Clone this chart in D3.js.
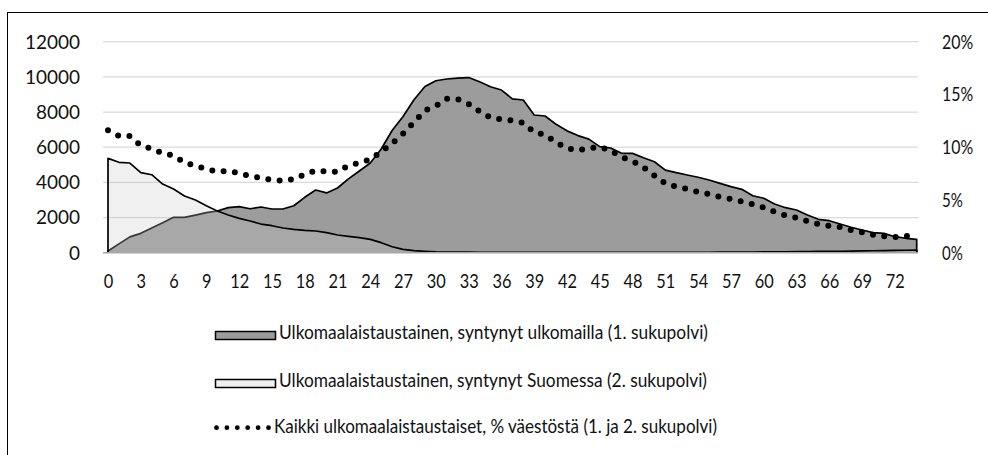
<!DOCTYPE html>
<html><head><meta charset="utf-8">
<script src="https://cdn.jsdelivr.net/npm/d3@7"></script>
<style>
body{margin:0;background:#fff}
svg{display:block}
text{font-family:Lato,Roboto,"Open Sans",sans-serif;fill:#111}
</style>
</head><body>
<svg id="chart" width="988" height="455"></svg>
<script>
// ---- data ----
const ages = d3.range(0, 75);
const firstGen = [100,500,900,1100,1400,1700,2010,2010,2140,2275,2370,2560,2620,2500,2600,2485,2485,2670,3150,3565,3400,3680,4200,4650,5100,5900,6950,7750,8700,9450,9780,9880,9930,9960,9725,9440,9250,8750,8685,7830,7775,7300,6930,6660,6460,6030,5955,5650,5650,5400,5175,4700,4550,4420,4290,4135,3940,3755,3605,3240,3095,2770,2560,2430,2145,1900,1820,1630,1445,1290,1140,1100,910,820,760];
const secondGen = [5365,5140,5100,4550,4435,3905,3620,3225,3000,2670,2370,2145,1955,1800,1630,1535,1405,1330,1275,1235,1140,1005,930,855,760,570,340,190,115,80,50,40,30,30,25,25,25,25,25,25,25,25,25,25,25,25,25,25,25,25,25,25,25,25,25,25,30,30,35,40,45,50,55,60,65,70,75,80,90,100,110,120,130,140,150];
const sharePct = [11.6,11.06,11.05,10.15,9.87,9.42,9.2,8.55,8.22,7.93,7.69,7.76,7.53,7.28,7.08,6.9,6.81,6.97,7.42,7.77,7.71,7.67,8.26,8.53,8.85,9.58,10.36,11.28,12.36,13.47,13.9,14.6,14.54,14.1,13.4,12.8,12.65,12.52,12.3,11.42,11.18,10.46,9.9,9.7,9.9,10.03,9.68,9.05,8.68,8.1,7.31,6.56,6.25,6.04,5.76,5.55,5.29,5.1,4.85,4.59,4.28,3.87,3.54,3.31,2.98,2.71,2.55,2.42,2.14,1.94,1.7,1.55,1.47,1.56,1.8];
const leftTicks = [0,2000,4000,6000,8000,10000,12000];
const rightTicks = [0,5,10,15,20];
const xTickAges = d3.range(0, 73, 3);
const legendLabels = [
  "Ulkomaalaistaustainen, syntynyt ulkomailla (1. sukupolvi)",
  "Ulkomaalaistaustainen, syntynyt Suomessa (2. sukupolvi)",
  "Kaikki ulkomaalaistaustaiset, % väestöstä (1. ja 2. sukupolvi)"
];

// ---- setup ----
const svg = d3.select("#chart");
const x = d3.scalePoint().domain(ages).range([108, 916.7]);
const yL = d3.scaleLinear().domain([0, 12000]).range([252.7, 41.7]);
const yR = d3.scaleLinear().domain([0, 20]).range([252.7, 41.7]);
const FONT = "Lato,Roboto,'Open Sans',sans-serif";

// outer border (extends past canvas on right/bottom)
svg.append("rect").attr("x", 7.5).attr("y", 12.5).attr("width", 1000).attr("height", 500)
  .attr("fill", "none").attr("stroke", "#000").attr("stroke-width", 1);

// gridlines
svg.append("g").selectAll("line").data(leftTicks.filter(d => d > 0)).join("line")
  .attr("x1", 103).attr("x2", 918)
  .attr("y1", d => yL(d)).attr("y2", d => yL(d))
  .attr("stroke", "#d9d9d9").attr("stroke-width", 1.3);

// areas
const area = d3.area().x((d, i) => x(ages[i])).y0(yL(0)).y1(d => yL(d));
const outline = vals => {
  const pts = vals.map((v, i) => [x(ages[i]), yL(v)]);
  return d3.line()([[x(ages[0]), yL(0)], ...pts, [x(ages[ages.length - 1]), yL(0)]]);
};
svg.append("path").attr("d", area(firstGen)).attr("fill", "#9c9c9c");
svg.append("path").attr("d", outline(firstGen)).attr("fill", "none")
  .attr("stroke", "#000").attr("stroke-width", 1.7).attr("stroke-linejoin", "round");
svg.append("path").attr("d", area(secondGen)).attr("fill", "#c8c8c8").attr("fill-opacity", 0.28);
svg.append("path").attr("d", outline(secondGen)).attr("fill", "none")
  .attr("stroke", "#000").attr("stroke-width", 1.7).attr("stroke-linejoin", "round");

// baseline
svg.append("line").attr("x1", 103).attr("x2", 918).attr("y1", yL(0)).attr("y2", yL(0))
  .attr("stroke", "#a6a6a6").attr("stroke-width", 1.5);

// dotted share line
svg.append("path")
  .attr("d", d3.line().x((d, i) => x(ages[i])).y(d => yR(d))(sharePct))
  .attr("fill", "none").attr("stroke", "#000").attr("stroke-width", 6)
  .attr("stroke-linecap", "round").attr("stroke-dasharray", "0 11.4");

// axes
const gL = svg.append("g").attr("transform", "translate(80,0)")
  .call(d3.axisLeft(yL).tickValues(leftTicks).tickSize(0).tickPadding(0).tickFormat(d3.format("d")));
const gR = svg.append("g").attr("transform", "translate(942,0)")
  .call(d3.axisRight(yR).tickValues(rightTicks).tickSize(0).tickPadding(0).tickFormat(d => d + "%"));
const gB = svg.append("g").attr("transform", "translate(0,274)")
  .call(d3.axisBottom(x).tickValues(xTickAges).tickSize(0).tickPadding(0));
[gL, gR, gB].forEach(g => {
  g.select(".domain").remove();
  g.selectAll("text").attr("font-family", FONT).attr("fill", "#111");
});
gL.selectAll("text").attr("font-size", 20).attr("textLength", d => String(d).length * 11).attr("lengthAdjust", "spacingAndGlyphs");
gR.selectAll("text").attr("font-size", 20).attr("textLength", d => String(d).length * 10.3 + 10.5).attr("lengthAdjust", "spacingAndGlyphs");
gB.selectAll("text").attr("font-size", 19).attr("textLength", d => String(d).length * 9.5).attr("lengthAdjust", "spacingAndGlyphs");

// legend
const lg = svg.append("g");
const rowsY = [339.3, 387.3, 432.7];
lg.append("rect").attr("x", 215.5).attr("y", 331.5).attr("width", 60).attr("height", 8)
  .attr("fill", "#9c9c9c").attr("stroke", "#000").attr("stroke-width", 1.5);
lg.append("rect").attr("x", 215.5).attr("y", 379.5).attr("width", 60).attr("height", 8)
  .attr("fill", "#f0f0f0").attr("stroke", "#000").attr("stroke-width", 1.5);
lg.selectAll("circle").data(d3.range(6)).join("circle")
  .attr("cx", d => 216.5 + d * 10.4).attr("cy", 427.7).attr("r", 2.4).attr("fill", "#000");
const textX = [279, 279, 274];
const textW = [429, 428, 443];
lg.selectAll("text").data(legendLabels).join("text")
  .attr("x", (d, i) => textX[i]).attr("y", (d, i) => rowsY[i])
  .attr("font-family", FONT).attr("font-size", 20).attr("textLength", (d, i) => textW[i])
  .attr("lengthAdjust", "spacingAndGlyphs").text(d => d);
</script>
</body></html>
